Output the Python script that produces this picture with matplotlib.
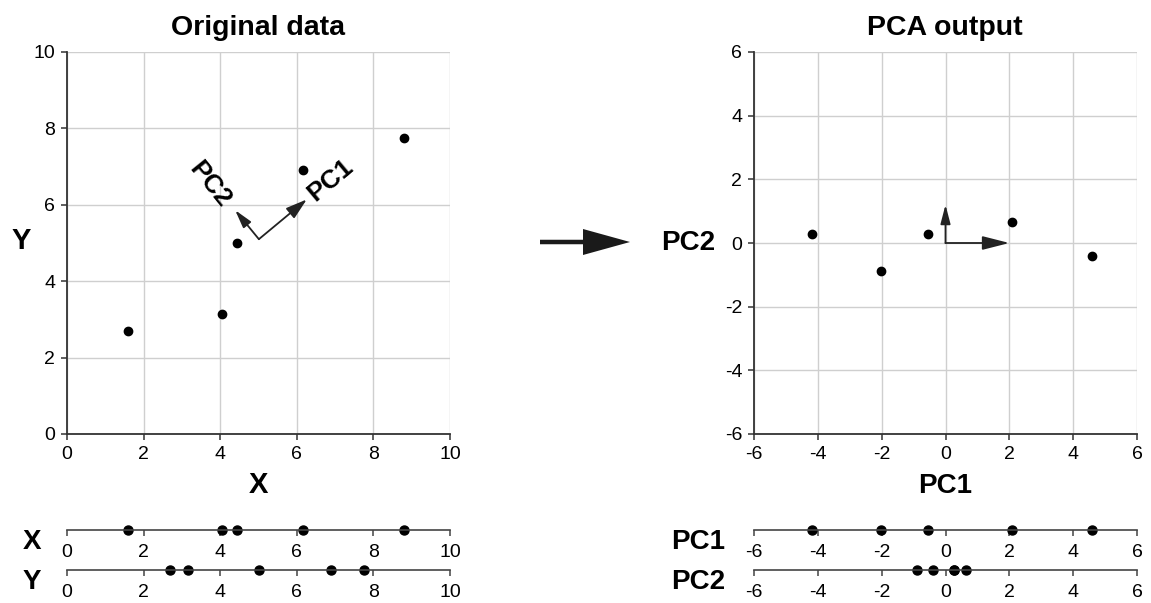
import matplotlib
matplotlib.use("Agg")
import matplotlib.pyplot as plt
from matplotlib.patches import FancyArrow

plt.rcParams['font.family'] = ['Liberation Sans', 'DejaVu Sans']
plt.rcParams['axes.unicode_minus'] = False

# ---- data ----
orig_x = [1.6, 4.05, 4.45, 6.15, 8.8]
orig_y = [2.7, 3.15, 5.0, 6.9, 7.75]
pc1_scores = [-4.17, -2.02, -0.54, 2.08, 4.6]
pc2_scores = [0.28, -0.89, 0.28, 0.65, -0.4]
pc_origin = (5.01, 5.1)
pc1_vec = (1.25, 1.04)
pc2_vec = (-0.62, 0.76)
out_pc1_vec = (2.0, 0.0)
out_pc2_vec = (0.0, 1.2)
orig_ticks = [0, 2, 4, 6, 8, 10]
pca_ticks = [-6, -4, -2, 0, 2, 4, 6]

W, H = 1151, 603
fig = plt.figure(figsize=(W / 100, H / 100), dpi=100)

def fx(px):
    return px / W

def fy(py):
    return 1 - py / H

SPINE = '#333333'
GRID = '#cfcfcf'
TICKFS = 14

def style_main(ax, ticks):
    ax.set_xlim(ticks[0], ticks[-1])
    ax.set_ylim(ticks[0], ticks[-1])
    ax.set_xticks(ticks)
    ax.set_yticks(ticks)
    ax.grid(True, color=GRID, lw=1.0)
    ax.set_axisbelow(True)
    for s in ('top', 'right'):
        ax.spines[s].set_visible(False)
    for s in ('left', 'bottom'):
        ax.spines[s].set_color(SPINE)
        ax.spines[s].set_linewidth(1.3)
    ax.tick_params(direction='out', length=4, width=1.1, color=SPINE,
                   labelsize=TICKFS, pad=4.5)

# ---- left main plot ----
axL = fig.add_axes([fx(67), fy(434), fx(383), 382 / H])
style_main(axL, orig_ticks)
axL.plot(orig_x, orig_y, 'o', color='black', ms=6, clip_on=False)
arrow_kw = dict(color='#222222', lw=1.3, shrinkA=0, shrinkB=0)
axL.annotate('', xy=(pc_origin[0] + pc1_vec[0], pc_origin[1] + pc1_vec[1]),
             xytext=pc_origin,
             arrowprops=dict(arrowstyle='-|>,head_length=1.3,head_width=0.4',
                             mutation_scale=10, **arrow_kw))
axL.annotate('', xy=(pc_origin[0] + pc2_vec[0], pc_origin[1] + pc2_vec[1]),
             xytext=pc_origin,
             arrowprops=dict(arrowstyle='-|>,head_length=1.1,head_width=0.3',
                             mutation_scale=10, **arrow_kw))
axL.text(6.87, 6.65, 'PC1', rotation=40, fontsize=19, fontweight='bold',
         ha='center', va='center', rotation_mode='anchor')
axL.text(3.73, 6.52, 'PC2', rotation=-51, fontsize=19, fontweight='bold',
         ha='center', va='center', rotation_mode='anchor')

# ---- right main plot ----
axR = fig.add_axes([fx(754), fy(434), fx(383), 382 / H])
style_main(axR, pca_ticks)
axR.plot(pc1_scores, pc2_scores, 'o', color='black', ms=6, clip_on=False)
axR.annotate('', xy=out_pc1_vec, xytext=(0, 0),
             arrowprops=dict(arrowstyle='-|>,head_length=1.65,head_width=0.42',
                             mutation_scale=10, **arrow_kw))
axR.annotate('', xy=out_pc2_vec, xytext=(0, 0),
             arrowprops=dict(arrowstyle='-|>,head_length=1.15,head_width=0.3',
                             mutation_scale=10, **arrow_kw))

# ---- titles and axis labels ----
fig.text(fx(258), fy(35), 'Original data', fontsize=20.5, fontweight='bold',
         ha='center', va='baseline')
fig.text(fx(945), fy(35), 'PCA output', fontsize=20.5, fontweight='bold',
         ha='center', va='baseline')
fig.text(fx(258), fy(493), 'X', fontsize=21, fontweight='bold',
         ha='center', va='baseline')
fig.text(fx(21), fy(241), 'Y', fontsize=21, fontweight='bold',
         ha='center', va='center')
fig.text(fx(945), fy(493), 'PC1', fontsize=20, fontweight='bold',
         ha='center', va='baseline')
fig.text(fx(688), fy(243), 'PC2', fontsize=20, fontweight='bold',
         ha='center', va='center')

# ---- big arrow between panels ----
fig.patches.append(FancyArrow(5.40, (H - 242) / 100, 0.90, 0, width=0.045,
                              head_width=0.26, head_length=0.47,
                              length_includes_head=True,
                              transform=fig.dpi_scale_trans,
                              color='#1a1a1a', lw=0))

# ---- 1-D strips ----
def strip(px_left, py_line, ticks, values, label, label_px):
    ax = fig.add_axes([fx(px_left), fy(py_line), fx(383), 0.0001])
    ax.set_xlim(ticks[0], ticks[-1])
    ax.set_ylim(0, 1)
    ax.set_xticks(ticks)
    ax.set_yticks([])
    for s in ('top', 'right', 'left'):
        ax.spines[s].set_visible(False)
    ax.spines['bottom'].set_color('#444444')
    ax.spines['bottom'].set_linewidth(1.2)
    ax.patch.set_visible(False)
    ax.tick_params(direction='out', length=4.5, width=1.1, color='#444444',
                   labelsize=TICKFS, pad=5.5)
    ax.plot(values, [0] * len(values), 'o', color='black', ms=6.5,
            clip_on=False)
    fig.text(fx(label_px), fy(py_line + 12), label, fontsize=20,
             fontweight='bold', ha='center', va='center')
    return ax

strip(67, 530, orig_ticks, orig_x, 'X', 32)
strip(67, 570, orig_ticks, orig_y, 'Y', 32)
strip(754, 530, pca_ticks, pc1_scores, 'PC1', 698)
strip(754, 570, pca_ticks, pc2_scores, 'PC2', 698)

fig.savefig('out.png', dpi=100)
